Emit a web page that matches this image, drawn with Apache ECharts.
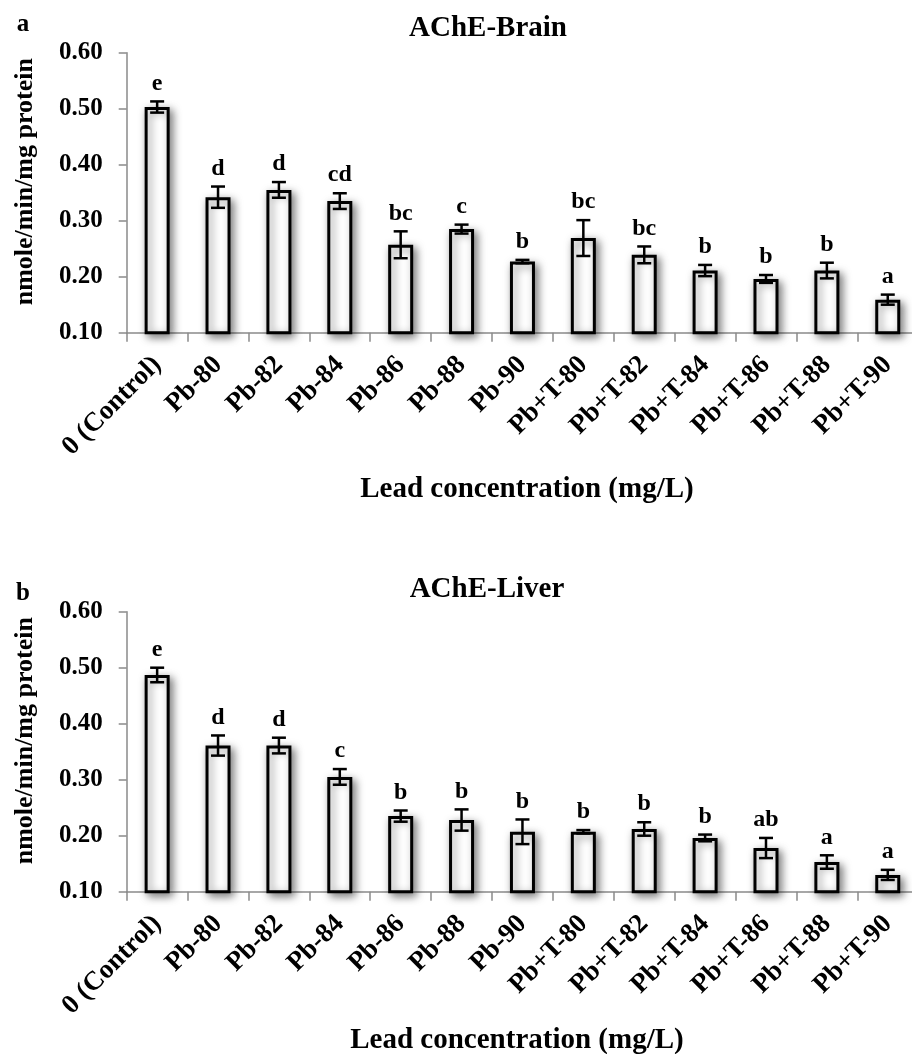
<!DOCTYPE html>
<html>
<head>
<meta charset="utf-8">
<script src="https://cdn.jsdelivr.net/npm/echarts@6/dist/echarts.min.js"></script>
<style>
html,body{margin:0;padding:0;background:#fff;}
#chart{width:912px;height:1054px;}
</style>
</head>
<body>
<div id="chart"></div>
<script>
const categories = ['0 (Control)','Pb-80','Pb-82','Pb-84','Pb-86','Pb-88','Pb-90','Pb+T-80','Pb+T-82','Pb+T-84','Pb+T-86','Pb+T-88','Pb+T-90'];
const brainMean = [0.503,0.342,0.355,0.335,0.257,0.285,0.227,0.269,0.239,0.211,0.196,0.211,0.159];
const brainErr  = [0.010,0.019,0.014,0.014,0.024,0.008,0.003,0.032,0.015,0.010,0.007,0.014,0.009];
const brainLetters = ['e','d','d','cd','bc','c','b','bc','bc','b','b','b','a'];
const liverMean = [0.487,0.361,0.361,0.305,0.235,0.228,0.207,0.207,0.212,0.196,0.178,0.153,0.130];
const liverErr  = [0.013,0.018,0.014,0.014,0.010,0.019,0.022,0.003,0.012,0.006,0.018,0.012,0.009];
const liverLetters = ['e','d','d','c','b','b','b','b','b','b','ab','a','a'];
const yMin = 0.1, yMax = 0.6, yStep = 0.1;
const panelTitles = ['AChE-Brain','AChE-Liver'];
const panelTags = ['a','b'];
const xTitle = 'Lead concentration (mg/L)';
const yTitle = 'nmole/min/mg protein';

const FONT = '"Liberation Serif","Times New Roman",serif';
const chart = echarts.init(document.getElementById('chart'));

function errData(mean, err, letters){
  return mean.map((m,i)=>[i, m - err[i], m + err[i], letters[i]]);
}
function errRender(params, api){
  const x = api.value(0);
  const lo = api.coord([x, api.value(1)]);
  const hi = api.coord([x, api.value(2)]);
  const cap = 7;
  const st = {stroke:'#000', lineWidth:2.5};
  return {type:'group', children:[
    {type:'line', shape:{x1:lo[0],y1:lo[1],x2:hi[0],y2:hi[1]}, style:st},
    {type:'line', shape:{x1:lo[0]-cap,y1:lo[1],x2:lo[0]+cap,y2:lo[1]}, style:st},
    {type:'line', shape:{x1:hi[0]-cap,y1:hi[1],x2:hi[0]+cap,y2:hi[1]}, style:st},
    {type:'text', x:hi[0], y:hi[1]-18, style:{text:api.value(3), font:'bold 24px '+FONT, fill:'#000', align:'center', verticalAlign:'middle'}}
  ]};
}

const grids = [
  {left:126.7, top:52.7, width:791.5, height:280, outerBoundsMode:'none', containLabel:false},
  {left:126.7, top:611.7, width:791.5, height:280, outerBoundsMode:'none', containLabel:false}
];
const xAxes = grids.map((g,i)=>({
  type:'category', gridIndex:i, data:categories,
  axisLine:{lineStyle:{color:'#8a8a8a', width:1.5}},
  axisTick:{show:true, length:9, lineStyle:{color:'#8a8a8a', width:1.5}},
  axisLabel:{rotate:45, margin:28, interval:0, color:'#000', fontFamily:FONT, fontWeight:'bold', fontSize:27}
}));
const yAxes = grids.map((g,i)=>({
  type:'value', gridIndex:i, min:yMin, max:yMax, interval:yStep,
  splitLine:{show:false},
  axisLine:{show:true, lineStyle:{color:'#8a8a8a', width:1.5}},
  axisTick:{show:true, length:8, lineStyle:{color:'#8a8a8a', width:1.5}},
  axisLabel:{margin:24, color:'#000', fontFamily:FONT, fontWeight:'bold', fontSize:25, formatter:v=>v.toFixed(2)},
  name:yTitle, nameLocation:'middle', nameRotate:90, nameGap:88,
  nameTextStyle:{color:'#000', fontFamily:FONT, fontWeight:'bold', fontSize:26, padding:[0,0,0,22]}
}));

const barStyle = {color:'#fff', borderColor:'#000', borderWidth:3,
  shadowColor:'rgba(0,0,0,0.5)', shadowBlur:9, shadowOffsetX:3, shadowOffsetY:3};

const option = {
  animation:false,
  backgroundColor:'#fff',
  title:[
    {text:panelTitles[0], left:483, top:9, textAlign:'center', textStyle:{fontFamily:FONT, fontWeight:'bold', fontSize:29, color:'#000'}},
    {text:panelTitles[1], left:482, top:570, textAlign:'center', textStyle:{fontFamily:FONT, fontWeight:'bold', fontSize:29, color:'#000'}},
    {text:panelTags[0], left:18, top:7, textAlign:'center', textStyle:{fontFamily:FONT, fontWeight:'bold', fontSize:25, color:'#000'}},
    {text:panelTags[1], left:18, top:576, textAlign:'center', textStyle:{fontFamily:FONT, fontWeight:'bold', fontSize:25, color:'#000'}},
    {text:xTitle, left:522, top:470, textAlign:'center', textStyle:{fontFamily:FONT, fontWeight:'bold', fontSize:29, color:'#000'}},
    {text:xTitle, left:512, top:1021, textAlign:'center', textStyle:{fontFamily:FONT, fontWeight:'bold', fontSize:29, color:'#000'}}
  ],
  grid:grids,
  xAxis:xAxes,
  yAxis:yAxes,
  series:[
    {type:'bar', xAxisIndex:0, yAxisIndex:0, data:brainMean, barWidth:25, itemStyle:barStyle},
    {type:'custom', xAxisIndex:0, yAxisIndex:0, data:errData(brainMean, brainErr, brainLetters), renderItem:errRender, z:10},
    {type:'bar', xAxisIndex:1, yAxisIndex:1, data:liverMean, barWidth:25, itemStyle:barStyle},
    {type:'custom', xAxisIndex:1, yAxisIndex:1, data:errData(liverMean, liverErr, liverLetters), renderItem:errRender, z:10}
  ]
};
chart.setOption(option);
</script>
</body>
</html>
